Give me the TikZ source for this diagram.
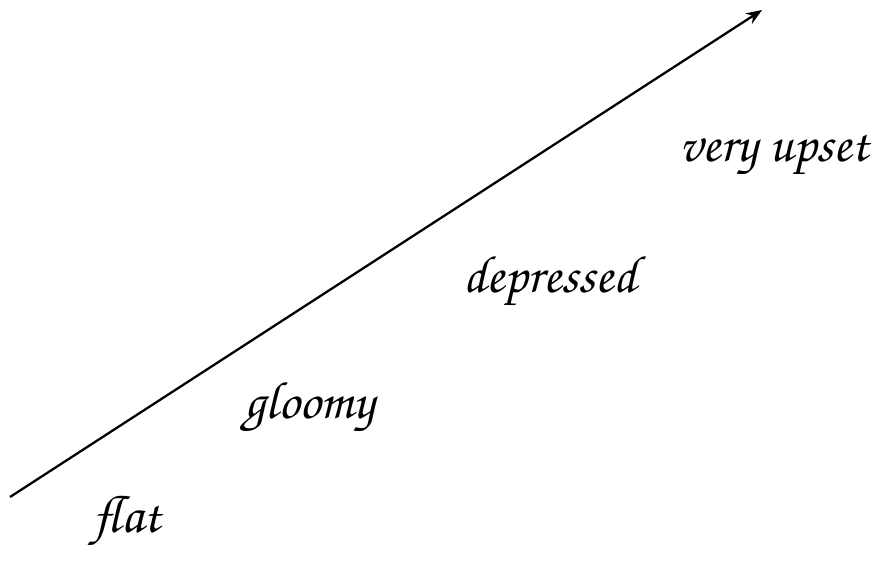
\documentclass[tikz,border=0pt]{standalone}
\usepackage[T1]{fontenc}
\usepackage{tikz}
\usetikzlibrary{arrows.meta}

\begin{document}
\begin{tikzpicture}[x=0.02cm,y=-0.02cm,>={Stealth[length=9pt,width=7pt]},
  mood/.style={font=\fontfamily{pzc}\fontsize{30}{36}\selectfont,inner sep=0pt}]
\useasboundingbox (0,0) rectangle (874,576);
% the scale
\coordinate (low) at (10,497);
\coordinate (high) at (762,10);
\draw[->,line width=1.3pt] (low) -- (high);
% moods
\node[mood] (flat) at (127,522) {flat};
\node[mood] (gloomy) at (310,408) {gloomy};
\node[mood] (depressed) at (550,282) {depressed};
\node[mood] (upset) at (774,155) {very upset};
\end{tikzpicture}
\end{document}
